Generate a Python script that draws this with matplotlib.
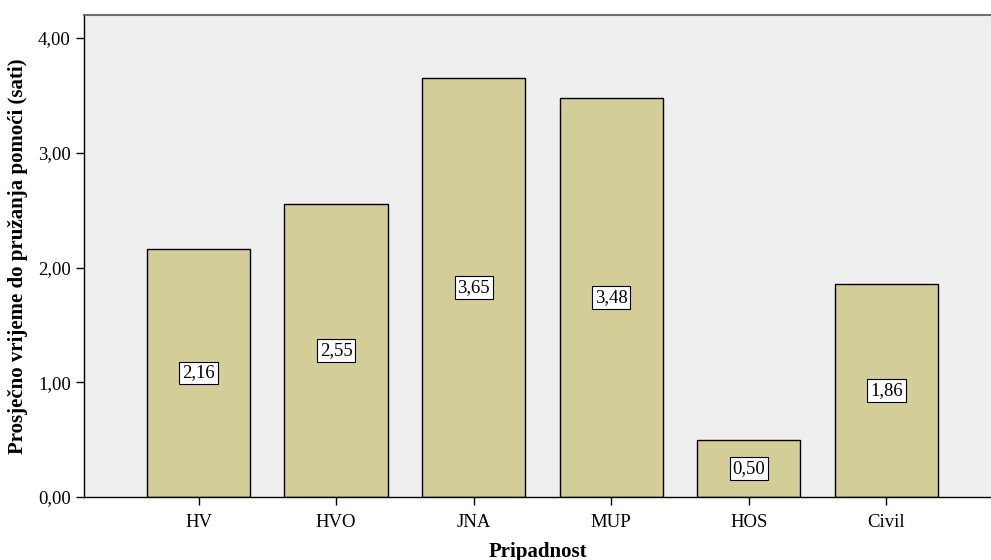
import matplotlib
matplotlib.use("Agg")
import matplotlib.pyplot as plt

categories = ["HV", "HVO", "JNA", "MUP", "HOS", "Civil"]
values = [2.16, 2.55, 3.65, 3.48, 0.50, 1.86]
yticks = [0, 1, 2, 3, 4]

plt.rcParams["font.family"] = ["Liberation Serif", "DejaVu Serif"]

fig = plt.figure(figsize=(9.91, 5.6), dpi=100)
ax = fig.add_axes([0.0848, 0.1125, 0.9152, 0.8605])
ax.set_facecolor("#EFEFEF")

x = list(range(len(categories)))
ax.bar(x, values, width=0.75, color="#D3CE97", edgecolor="black", linewidth=1.0, zorder=2)

for xi, v in zip(x, values):
    ax.text(xi, v / 2, f"{v:.2f}".replace(".", ","), ha="center", va="center",
            fontsize=13.5, zorder=3,
            bbox=dict(boxstyle="square,pad=0.15", facecolor="white", edgecolor="black", linewidth=0.8))

ax.set_xlim(-0.832, 5.76)
ax.set_ylim(0, 4.2)
ax.set_xticks(x)
ax.set_xticklabels(categories, fontsize=13.5)
ax.set_yticks(yticks)
ax.set_yticklabels([f"{t:.2f}".replace(".", ",") for t in yticks], fontsize=13.5)
ax.tick_params(axis="both", length=6, width=1.0, color="black")
ax.tick_params(axis="x", pad=6)

ax.spines["right"].set_visible(False)
ax.spines["top"].set_color("#6E6E6E")
ax.spines["top"].set_linewidth(1.5)
ax.spines["left"].set_linewidth(1.0)
ax.spines["bottom"].set_linewidth(1.0)

ax.set_xlabel("Pripadnost", fontsize=15, fontweight="bold", labelpad=8)
ax.set_ylabel("Prosječno vrijeme do pružanja pomoći (sati)", fontsize=15, fontweight="bold", labelpad=7)

fig.savefig("out.png", dpi=100)
